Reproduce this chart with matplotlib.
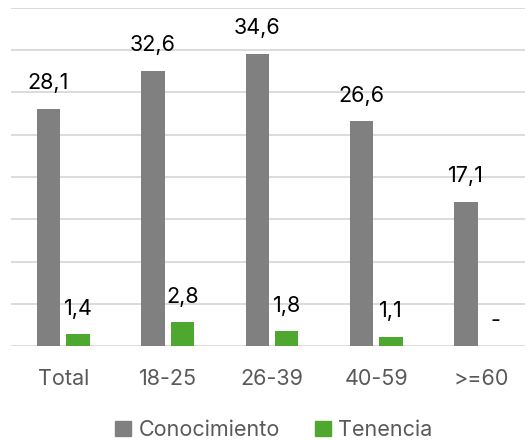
import matplotlib
matplotlib.use("Agg")
import matplotlib.pyplot as plt
from matplotlib.patches import Patch
import numpy as np

categories = ["Total", "18-25", "26-39", "40-59", ">=60"]
conocimiento = [28.1, 32.6, 34.6, 26.6, 17.1]
tenencia = [1.4, 2.8, 1.8, 1.1, 0.0]
con_labels = ["28,1", "32,6", "34,6", "26,6", "17,1"]
ten_labels = ["1,4", "2,8", "1,8", "1,1", "-"]

plt.rcParams['font.family'] = ['Inter', 'DejaVu Sans']

W, H = 526, 440
fig = plt.figure(figsize=(W/100, H/100), dpi=100)
ax = fig.add_axes([11/W, (H-346)/H, 514/W, 338/H])

x = np.arange(len(categories))
off = 0.141
bw = 0.223
gray = "#808080"
green = "#4EA72E"
ax.bar(x - off, conocimiento, bw, color=gray, zorder=3)
ax.bar(x + off, tenencia, bw, color=green, zorder=3)

fs = 15.5
for xi, v, t in zip(x, conocimiento, con_labels):
    ax.annotate(t, (xi - off, v), xytext=(0, 11), textcoords="offset points",
                ha="center", va="bottom", fontsize=fs, color="#000000")
for xi, v, t in zip(x, tenencia, ten_labels):
    ax.annotate(t, (xi + off, v), xytext=(0, 11), textcoords="offset points",
                ha="center", va="bottom", fontsize=fs, color="#000000")

ax.set_xlim(-0.5, -0.5 + 514/104.4)
ax.set_ylim(0, 40)
ax.set_yticks(np.arange(0, 41, 5))
ax.yaxis.grid(True, color="#d9d9d9", linewidth=1.3, zorder=0)
ax.tick_params(axis="y", left=False, labelleft=False)
ax.tick_params(axis="x", bottom=False, labelsize=fs, labelcolor="#595959", pad=13)
ax.set_xticks(x)
ax.set_xticklabels(categories)
for s in ["top", "right", "left", "bottom"]:
    ax.spines[s].set_visible(False)

handles = [Patch(color=gray, label="Conocimiento"), Patch(color=green, label="Tenencia")]
fig.legend(handles=handles, loc="center", bbox_to_anchor=(274/W, 1 - 430/H), ncol=2,
           frameon=False, fontsize=fs, labelcolor="#595959", handlelength=0.75,
           handleheight=0.75, handletextpad=0.35, columnspacing=1.6)

fig.savefig("out.png", dpi=100)
